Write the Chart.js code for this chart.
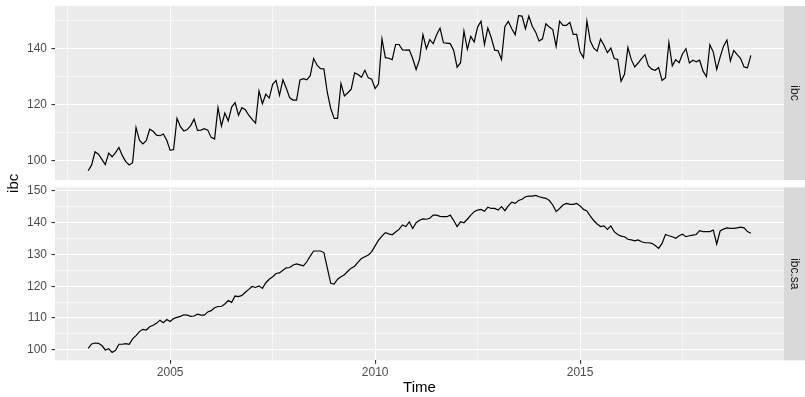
<!DOCTYPE html>
<html>
<head>
<meta charset="utf-8">
<title>ibc / ibc.sa</title>
<script src="https://cdn.jsdelivr.net/npm/chart.js"></script>
<style>
  html, body { margin: 0; padding: 0; background: #fff; }
  #wrap { position: relative; width: 805px; height: 397px; }
  #wrap canvas { position: absolute; left: 0; top: 0; }
</style>
</head>
<body>
<div id="wrap">
  <canvas id="ibcChart" width="805" height="397"></canvas>
  <canvas id="ibcSaChart" width="805" height="397"></canvas>
</div>
<script>
// monthly series, Jan 2003 .. Mar 2019
const startYear = 2003;

const ibc = [
  96.5, 98.6, 103.3, 102.4, 100.6, 98.7, 102.8, 101.5, 103.0, 104.8, 101.9, 99.8,
  98.6, 99.4, 111.9, 107.4, 106.1, 107.2, 111.3, 110.6, 109.2, 109.0, 109.6, 107.4,
  103.8, 104.1, 115.2, 112.2, 110.7, 111.2, 112.6, 114.9, 110.9, 111.0, 111.5, 111.0,
  108.4, 107.8, 119.0, 112.5, 117.1, 114.3, 119.2, 120.8, 116.3, 119.0, 118.3, 116.3,
  114.8, 113.5, 124.9, 120.4, 123.8, 122.4, 127.3, 128.7, 123.4, 128.9, 125.9, 122.5,
  121.7, 121.7, 128.9, 129.3, 128.9, 130.4, 136.5, 134.1, 132.9, 132.8, 124.4, 118.7,
  115.2, 115.2, 127.6, 123.2, 124.3, 125.6, 131.4, 130.8, 129.8, 132.3, 129.6, 129.1,
  125.8, 127.5, 143.5, 136.8, 136.6, 136.1, 141.5, 141.5, 139.6, 139.5, 139.6, 136.5,
  132.6, 136.2, 145.0, 140.0, 143.2, 141.8, 145.0, 147.3, 142.1, 142.0, 141.8, 139.4,
  133.4, 135.0, 146.3, 139.8, 144.4, 142.4, 147.7, 149.8, 141.5, 147.4, 143.9, 139.5,
  139.3, 136.2, 147.9, 149.7, 147.1, 145.0, 151.8, 151.6, 147.1, 151.6, 148.0, 145.9,
  142.7, 143.5, 148.9, 147.7, 146.8, 140.8, 149.8, 148.3, 148.3, 149.4, 145.1, 145.1,
  138.8, 136.8, 149.8, 142.7, 140.2, 139.1, 143.4, 141.2, 138.6, 140.2, 136.5, 136.2,
  128.4, 130.9, 140.4, 136.1, 133.5, 134.9, 136.5, 137.9, 133.9, 132.7, 132.3, 133.3,
  128.7, 129.7, 142.2, 133.9, 136.1, 135.0, 138.2, 140.0, 134.9, 135.9, 135.3, 135.9,
  132.0, 130.0, 141.4, 138.8, 132.6, 137.0, 140.9, 143.1, 135.6, 139.4, 137.9, 136.5,
  133.5, 133.2, 137.6
];

const ibcSa = [
  100.4, 101.8, 102.1, 102.0, 101.3, 99.9, 100.3, 99.1, 99.8, 101.7, 101.7, 101.9,
  101.7, 103.4, 104.4, 105.7, 106.4, 106.2, 107.2, 107.7, 108.3, 109.3, 108.5, 109.5,
  108.9, 109.8, 110.2, 110.5, 111.0, 110.9, 110.5, 110.6, 111.2, 110.9, 110.9, 111.9,
  112.3, 113.2, 113.6, 113.6, 114.4, 115.5, 114.9, 116.9, 116.7, 117.1, 118.1, 119.0,
  119.9, 119.6, 120.1, 119.3, 121.1, 122.2, 123.0, 124.0, 124.2, 125.0, 125.8, 125.9,
  126.7, 127.0, 126.7, 126.4, 127.7, 129.5, 131.1, 131.1, 131.1, 130.6, 125.8, 120.9,
  120.7, 122.2, 123.0, 123.6, 124.7, 125.7, 126.3, 127.6, 128.7, 129.3, 129.8, 130.9,
  132.7, 134.5, 135.8, 136.9, 136.5, 136.2, 137.1, 137.9, 139.3, 138.8, 140.3, 138.2,
  140.0, 140.8, 141.2, 141.1, 141.4, 142.4, 142.4, 142.0, 141.9, 141.9, 142.4, 140.7,
  138.8, 140.3, 140.0, 141.1, 142.4, 143.5, 144.0, 144.2, 143.6, 144.9, 144.5, 144.5,
  144.0, 145.1, 143.8, 145.3, 146.5, 146.1, 147.0, 147.4, 148.2, 148.4, 148.4, 148.6,
  148.2, 147.9, 147.7, 147.0, 145.6, 143.5, 144.5, 145.6, 146.1, 145.8, 145.8, 146.1,
  145.3, 144.2, 143.7, 142.1, 140.7, 139.6, 138.8, 139.0, 137.9, 139.0, 137.2, 136.3,
  135.8, 135.6, 134.8, 134.6, 134.3, 134.6, 134.0, 133.7, 133.7, 133.5, 132.8, 131.9,
  133.5, 136.3, 135.9, 135.6, 135.1, 135.9, 136.4, 135.6, 135.9, 136.1, 136.3, 137.5,
  137.2, 137.2, 137.2, 137.7, 133.3, 137.4, 138.0, 138.4, 138.2, 138.2, 138.4, 138.6,
  138.4, 137.2, 136.7
];

const xMajor = [2005, 2010, 2015];
const xMinor = [2002.5, 2007.5, 2012.5, 2017.5];
const ibcMajor = [100, 120, 140];
const ibcMinor = [110, 130, 150];
const ibcSaMajor = [100, 110, 120, 130, 140, 150];
const ibcSaMinor = [105, 115, 125, 135, 145];

const FONT = '"Liberation Sans", Arial, Helvetica, sans-serif';
const W = 805, H = 397;
const PANEL_LEFT = 55, PANEL_RIGHT = 784;
const X_MIN = 2002.19, X_MAX = 2019.975;

function toPoints(values) {
  return values.map((v, i) => ({ x: startYear + i / 12, y: v }));
}

function setTicks(major, minor) {
  return (scale) => {
    scale.ticks = major.concat(minor).sort((a, b) => a - b).map((v) => ({ value: v }));
  };
}

function gridFor(major, drawTicks) {
  const isMajor = (c) => c.tick && major.includes(c.tick.value);
  return {
    color: '#FFFFFF',
    lineWidth: (c) => (isMajor(c) ? 1.1 : 0.55),
    drawTicks: drawTicks,
    tickLength: 3.5,
    tickWidth: 1.1,
    tickColor: (c) => (isMajor(c) ? '#333333' : 'rgba(0,0,0,0)'),
  };
}

const panelBg = {
  id: 'panelBg',
  beforeDraw(chart, args, opts) {
    const { ctx, chartArea: a } = chart;
    ctx.save();
    ctx.fillStyle = '#EBEBEB';
    ctx.fillRect(a.left, a.top, a.right - a.left, a.bottom - a.top);
    ctx.fillStyle = '#D9D9D9';
    ctx.fillRect(a.right, a.top, chart.width - a.right, a.bottom - a.top);
    ctx.translate(a.right + (chart.width - a.right) / 2, (a.top + a.bottom) / 2);
    ctx.rotate(Math.PI / 2);
    ctx.fillStyle = '#1A1A1A';
    ctx.font = '12px ' + FONT;
    ctx.textAlign = 'center';
    ctx.textBaseline = 'middle';
    ctx.fillText(opts.strip, 0, 0);
    ctx.restore();
  },
};

const yTitle = {
  id: 'yTitle',
  afterDraw(chart, args, opts) {
    if (!opts.text) return;
    const ctx = chart.ctx;
    ctx.save();
    ctx.translate(14, 183.3);
    ctx.rotate(-Math.PI / 2);
    ctx.fillStyle = '#000000';
    ctx.font = '15px ' + FONT;
    ctx.textAlign = 'center';
    ctx.textBaseline = 'middle';
    ctx.fillText(opts.text, 0, 0);
    ctx.restore();
  },
};

function makePanel(id, values, cfg) {
  const showX = cfg.showX;
  return new Chart(document.getElementById(id), {
    type: 'line',
    data: {
      datasets: [{
        data: toPoints(values),
        borderColor: '#000000',
        borderWidth: 1.2,
        pointRadius: 0,
        tension: 0,
        fill: false,
      }],
    },
    options: {
      responsive: false,
      animation: false,
      events: [],
      layout: { padding: { left: 0, right: W - PANEL_RIGHT, top: cfg.top, bottom: cfg.bottom } },
      plugins: {
        legend: { display: false },
        tooltip: { enabled: false },
        panelBg: { strip: cfg.strip },
        yTitle: { text: cfg.yTitle || '' },
      },
      scales: {
        x: {
          type: 'linear',
          min: X_MIN,
          max: X_MAX,
          afterBuildTicks: setTicks(xMajor, xMinor),
          afterFit: (s) => { s.height = showX ? H - cfg.panelBottom : 0; s.paddingLeft = 0; s.paddingRight = 0; },
          border: { display: false },
          grid: gridFor(xMajor, showX),
          ticks: {
            display: showX,
            autoSkip: false,
            maxRotation: 0,
            padding: 2,
            color: '#4D4D4D',
            font: { family: FONT, size: 12 },
            callback: (v) => (xMajor.includes(v) ? String(v) : ''),
          },
          title: {
            display: showX,
            text: 'Time',
            color: '#000000',
            font: { family: FONT, size: 15 },
            padding: { top: 0, bottom: 0 },
          },
        },
        y: {
          min: cfg.yMin,
          max: cfg.yMax,
          afterBuildTicks: setTicks(cfg.major, cfg.minor),
          afterFit: (s) => { s.width = PANEL_LEFT; s.paddingTop = 0; s.paddingBottom = 0; },
          border: { display: false },
          grid: gridFor(cfg.major, true),
          ticks: {
            autoSkip: false,
            padding: 4.5,
            color: '#4D4D4D',
            font: { family: FONT, size: 12 },
            callback: (v) => (cfg.major.includes(v) ? String(v) : ''),
          },
        },
      },
    },
    plugins: [panelBg, yTitle],
  });
}

makePanel('ibcChart', ibc, {
  strip: 'ibc',
  top: 6, bottom: H - 180, panelBottom: 180,
  yMin: 93.23, yMax: 155.21,
  major: ibcMajor, minor: ibcMinor,
  showX: false,
});

makePanel('ibcSaChart', ibcSa, {
  strip: 'ibc.sa',
  yTitle: 'ibc',
  top: 187.33, bottom: 0, panelBottom: 360.33,
  yMin: 96.64, yMax: 151.16,
  major: ibcSaMajor, minor: ibcSaMinor,
  showX: true,
});
</script>
</body>
</html>
